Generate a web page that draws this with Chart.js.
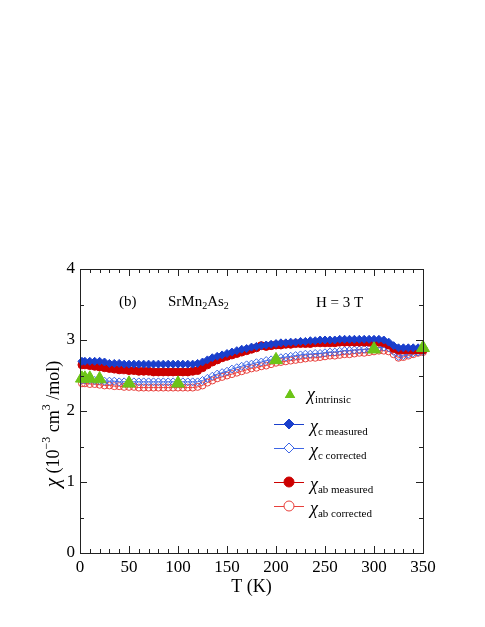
<!DOCTYPE html>
<html>
<head>
<meta charset="utf-8">
<script src="https://cdn.jsdelivr.net/npm/chart.js@4.4.1/dist/chart.umd.min.js"></script>
<style>
body { margin: 0; background: #fff; }
#wrap { width: 485px; height: 627px; }
</style>
</head>
<body>
<div id="wrap"><canvas id="chiChart"></canvas></div>
<script>
// temperatures (K) of the measured / corrected curves
const temps = [2, 5, 10, 15, 20, 25, 30, 35, 40, 45,
    50, 55, 60, 65, 70, 75, 80, 85, 90, 95,
    100, 105, 110, 115, 120, 125, 130, 135, 140, 145,
    150, 155, 160, 165, 170, 175, 180, 185, 190, 195,
    200, 205, 210, 215, 220, 225, 230, 235, 240, 245,
    250, 255, 260, 265, 270, 275, 280, 285, 290, 295,
    300, 305, 310, 315, 320, 325, 330, 335, 340, 345,
    350];

const chiCMeasured = [2.70, 2.70, 2.70, 2.70, 2.70, 2.69, 2.67, 2.67, 2.67, 2.66,
    2.66, 2.66, 2.66, 2.66, 2.66, 2.66, 2.66, 2.66, 2.66, 2.66,
    2.66, 2.66, 2.66, 2.66, 2.67, 2.69, 2.72, 2.75, 2.77, 2.79,
    2.81, 2.83, 2.85, 2.87, 2.88, 2.90, 2.91, 2.92, 2.93, 2.94,
    2.95, 2.96, 2.96, 2.97, 2.97, 2.98, 2.98, 2.99, 2.99, 3.00,
    3.00, 3.00, 3.00, 3.01, 3.01, 3.01, 3.01, 3.01, 3.01, 3.01,
    3.01, 3.01, 3.00, 2.97, 2.92, 2.89, 2.89, 2.89, 2.89, 2.89,
    2.89];

const chiCCorrected = [2.44, 2.44, 2.44, 2.43, 2.43, 2.42, 2.42, 2.42, 2.41, 2.41,
    2.41, 2.41, 2.41, 2.41, 2.41, 2.41, 2.41, 2.41, 2.41, 2.41,
    2.41, 2.41, 2.41, 2.41, 2.41, 2.43, 2.46, 2.49, 2.52, 2.54,
    2.56, 2.59, 2.61, 2.63, 2.65, 2.66, 2.68, 2.69, 2.71, 2.72,
    2.74, 2.75, 2.76, 2.77, 2.78, 2.79, 2.80, 2.80, 2.81, 2.81,
    2.82, 2.83, 2.83, 2.84, 2.85, 2.85, 2.86, 2.86, 2.87, 2.87,
    2.88, 2.89, 2.90, 2.89, 2.84, 2.77, 2.78, 2.80, 2.82, 2.83,
    2.84];

const chiAbMeasured = [2.65, 2.65, 2.64, 2.63, 2.62, 2.61, 2.60, 2.59, 2.58, 2.58,
    2.57, 2.57, 2.56, 2.56, 2.56, 2.55, 2.55, 2.55, 2.55, 2.55,
    2.55, 2.55, 2.55, 2.56, 2.57, 2.61, 2.65, 2.69, 2.72, 2.75,
    2.77, 2.79, 2.81, 2.83, 2.85, 2.87, 2.89, 2.92, 2.91, 2.92,
    2.93, 2.93, 2.94, 2.94, 2.95, 2.95, 2.95, 2.95, 2.96, 2.96,
    2.96, 2.96, 2.96, 2.97, 2.97, 2.97, 2.97, 2.97, 2.97, 2.97,
    2.97, 2.97, 2.96, 2.93, 2.88, 2.86, 2.86, 2.86, 2.86, 2.86,
    2.86];

const chiAbCorrected = [2.39, 2.39, 2.38, 2.38, 2.37, 2.36, 2.36, 2.35, 2.35, 2.34,
    2.34, 2.34, 2.33, 2.33, 2.33, 2.33, 2.33, 2.33, 2.33, 2.33,
    2.33, 2.33, 2.33, 2.33, 2.34, 2.36, 2.40, 2.43, 2.46, 2.48,
    2.50, 2.52, 2.54, 2.56, 2.58, 2.60, 2.61, 2.63, 2.64, 2.66,
    2.68, 2.69, 2.70, 2.71, 2.72, 2.73, 2.74, 2.75, 2.75, 2.76,
    2.77, 2.78, 2.78, 2.79, 2.80, 2.80, 2.81, 2.82, 2.82, 2.83,
    2.84, 2.85, 2.85, 2.84, 2.80, 2.75, 2.76, 2.78, 2.80, 2.82,
    2.83];

const intrinsicT = [2, 5, 10, 20, 50, 100, 200, 300, 350];
const chiIntrinsic = [2.46, 2.46, 2.46, 2.45, 2.39, 2.39, 2.72, 2.87, 2.89];

const BLUE = '#1a3fcc';
const BLUE_LIGHT = '#3d66e6';
const RED = '#cc0000';
const RED_LIGHT = '#e8403c';
const GREEN = '#6cc417';
const FONT = '"Liberation Serif", "Times New Roman", serif';

function pts(xs, ys) {
    return xs.map((t, i) => ({ x: t, y: ys[i] }));
}

// text with a subscript or superscript, left aligned
function richText(ctx, parts, x, y) {
    parts.forEach(p => {
        ctx.font = (p.it ? 'italic ' : '') + p.size + 'px ' + FONT;
        ctx.fillText(p.t, x, y + (p.dy || 0));
        x += ctx.measureText(p.t).width;
    });
    return x;
}
function richWidth(ctx, parts) {
    let w = 0;
    parts.forEach(p => {
        ctx.font = (p.it ? 'italic ' : '') + p.size + 'px ' + FONT;
        w += ctx.measureText(p.t).width;
    });
    return w;
}

const framePlugin = {
    id: 'framePlugin',
    afterDraw(chart) {
        const { ctx, chartArea: a, scales: { x, y } } = chart;
        ctx.save();
        ctx.strokeStyle = '#222';
        ctx.lineWidth = 1;
        ctx.strokeRect(a.left + 0.5, a.top + 0.5, a.right - a.left, a.bottom - a.top);

        ctx.beginPath();
        for (let t = 0; t <= 350; t += 10) {
            const px = Math.round(x.getPixelForValue(t)) + 0.5;
            const len = t % 50 === 0 ? 7 : 4;
            ctx.moveTo(px, a.bottom); ctx.lineTo(px, a.bottom - len);
            ctx.moveTo(px, a.top); ctx.lineTo(px, a.top + len);
        }
        for (let v = 0; v <= 4; v += 0.5) {
            const py = Math.round(y.getPixelForValue(v)) + 0.5;
            const len = v % 1 === 0 ? 7 : 4;
            ctx.moveTo(a.left, py); ctx.lineTo(a.left + len, py);
            ctx.moveTo(a.right, py); ctx.lineTo(a.right - len, py);
        }
        ctx.stroke();

        ctx.fillStyle = '#000';
        ctx.textBaseline = 'alphabetic';
        ctx.textAlign = 'left';

        // annotations
        richText(ctx, [{ t: '(b)', size: 15 }], 119, 306);
        richText(ctx, [{ t: 'SrMn', size: 15 }, { t: '2', size: 10, dy: 3 },
            { t: 'As', size: 15 }, { t: '2', size: 10, dy: 3 }], 168, 306);
        richText(ctx, [{ t: 'H = 3 T', size: 15 }], 316, 307);

        // legend
        const rows = [
            { y: 424, sub: 'c measured', color: BLUE, style: 'rectRot', fill: true },
            { y: 448, sub: 'c corrected', color: BLUE_LIGHT, style: 'rectRot', fill: false },
            { y: 482, sub: 'ab measured', color: RED, style: 'circle', fill: true },
            { y: 506, sub: 'ab corrected', color: RED_LIGHT, style: 'circle', fill: false }
        ];
        ctx.save();
        ctx.fillStyle = GREEN;
        Chart.helpers.drawPoint(ctx, { pointStyle: 'triangle', radius: 6, borderWidth: 0 }, 290, 395);
        ctx.fill();
        ctx.restore();
        richText(ctx, [{ t: 'χ', size: 18, it: true }, { t: 'intrinsic', size: 11, dy: 3 }], 307, 400);

        rows.forEach(r => {
            ctx.save();
            ctx.strokeStyle = r.color;
            ctx.lineWidth = 1;
            ctx.beginPath();
            ctx.moveTo(274, r.y + 0.5); ctx.lineTo(304, r.y + 0.5);
            ctx.stroke();
            ctx.fillStyle = r.fill ? r.color : '#fff';
            ctx.lineWidth = 1;
            Chart.helpers.drawPoint(ctx, { pointStyle: r.style, radius: 5, borderWidth: 1 }, 289, r.y);
            ctx.restore();
            richText(ctx, [{ t: 'χ', size: 18, it: true }, { t: r.sub, size: 11, dy: 3 }], 310, r.y + 8);
        });

        // axis titles
        ctx.font = '18px ' + FONT;
        ctx.textAlign = 'center';
        ctx.fillText('T (K)', (a.left + a.right) / 2, 592);

        const yParts = [{ t: 'χ', size: 21, it: true }, { t: ' (10', size: 18 }, { t: '−3', size: 12, dy: -9 },
            { t: ' cm', size: 18 }, { t: '3', size: 12, dy: -9 }, { t: ' /mol)', size: 18 }];
        ctx.textAlign = 'left';
        ctx.translate(59, 424);
        ctx.rotate(-Math.PI / 2);
        richText(ctx, yParts, -richWidth(ctx, yParts) / 2, 0);
        ctx.restore();
    }
};

const openStyle = (color, style, r) => ({
    pointStyle: style,
    pointRadius: r,
    pointBorderColor: color,
    pointBackgroundColor: 'rgba(255,255,255,0)',
    pointBorderWidth: 1,
    borderColor: color,
    borderWidth: 1
});
const filledStyle = (color, style, r) => ({
    pointStyle: style,
    pointRadius: r,
    pointBorderColor: color,
    pointBackgroundColor: color,
    pointBorderWidth: 1,
    borderColor: color,
    borderWidth: 1
});

// Chart.js paints the first dataset last, so the list goes top layer first
const ctx = document.getElementById('chiChart').getContext('2d');
const chiChart = new Chart(ctx, {
    type: 'scatter',
    data: {
        datasets: [
            {
                label: 'χintrinsic',
                data: pts(intrinsicT, chiIntrinsic),
                showLine: false,
                clip: false,
                pointStyle: 'triangle',
                pointRadius: 7.5,
                pointBackgroundColor: GREEN,
                pointBorderColor: GREEN,
                pointBorderWidth: 1
            },
            Object.assign({ label: 'χc measured', data: pts(temps, chiCMeasured), showLine: true, clip: false },
                filledStyle(BLUE, 'rectRot', 4)),
            Object.assign({ label: 'χab measured', data: pts(temps, chiAbMeasured), showLine: true, clip: false },
                filledStyle(RED, 'circle', 4)),
            Object.assign({ label: 'χc corrected', data: pts(temps, chiCCorrected), showLine: true, clip: false },
                openStyle(BLUE_LIGHT, 'rectRot', 4)),
            Object.assign({ label: 'χab corrected', data: pts(temps, chiAbCorrected), showLine: true, clip: false },
                openStyle(RED_LIGHT, 'circle', 3.5))
        ]
    },
    options: {
        responsive: true,
        maintainAspectRatio: false,
        animation: false,
        layout: { padding: { top: 269, right: 62, left: 0, bottom: 0 } },
        plugins: {
            legend: { display: false },
            tooltip: { enabled: false }
        },
        scales: {
            x: {
                type: 'linear',
                min: 0,
                max: 350,
                grid: { display: false, drawTicks: false },
                border: { display: false },
                ticks: { stepSize: 50, padding: 4, color: '#000', font: { family: FONT, size: 17 } },
                afterFit(s) { s.height = 74; }
            },
            y: {
                min: 0,
                max: 4,
                grid: { display: false, drawTicks: false },
                border: { display: false },
                ticks: { stepSize: 1, padding: 5, color: '#000', font: { family: FONT, size: 17 } },
                afterFit(s) { s.width = 80; }
            }
        }
    },
    plugins: [framePlugin]
});
</script>
</body>
</html>
